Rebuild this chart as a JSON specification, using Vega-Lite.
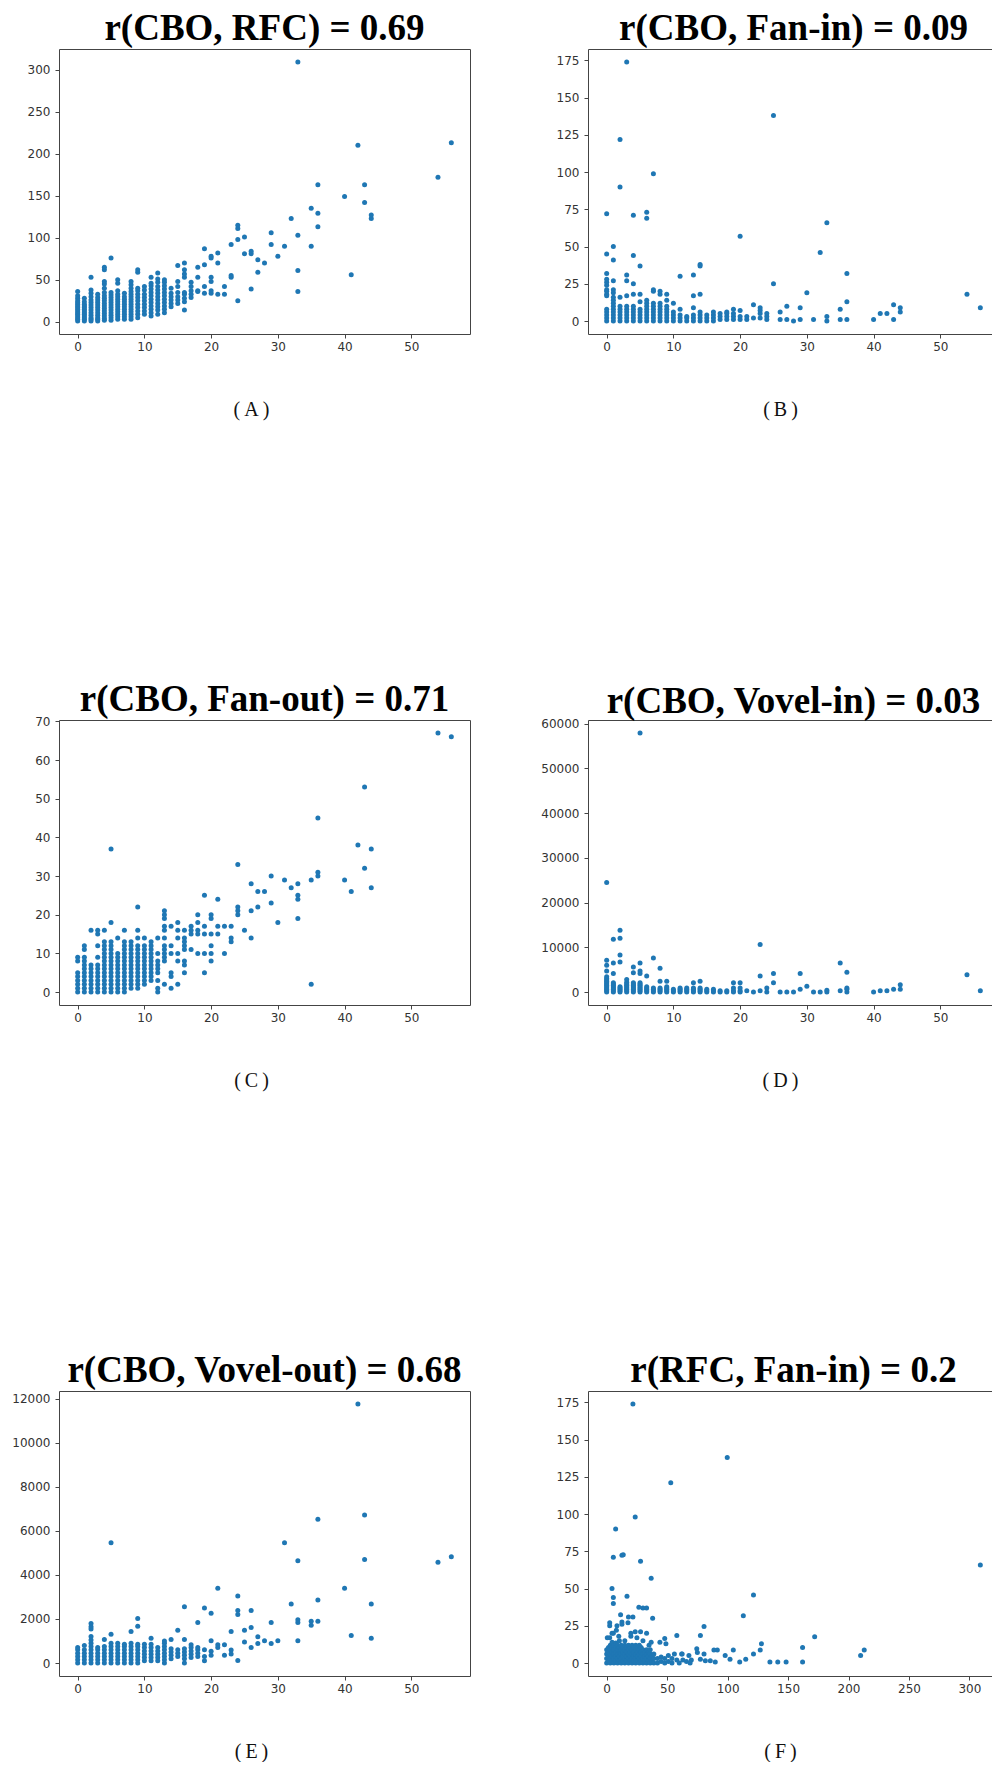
{
"$schema": "https://vega.github.io/schema/vega-lite/v6.json",
"padding": {"left": 11, "top": 9, "right": 0, "bottom": 0},
"config": {
  "view": {"stroke": "#444", "strokeWidth": 1},
  "axis": {"grid": false, "domain": false, "tickColor": "#444", "tickSize": 4, "tickWidth": 1, "labelFont": "DejaVu Sans", "labelFontSize": 12, "labelColor": "#333", "labelPadding": 5, "titleFont": "Liberation Serif", "titleFontSize": 20, "titleFontWeight": "normal", "titleColor": "#111", "format": "d"},
  "axisX": {"labelPadding": 3, "titlePadding": 47, "titleX": 192, "titleAlign": "center"},
  "title": {"font": "Liberation Serif", "fontSize": 37, "fontWeight": "bold", "color": "#000", "anchor": "middle", "frame": "group", "baseline": "alphabetic", "offset": 1},
  "circle": {"size": 25, "color": "#1f77b4", "opacity": 1}
},
"datasets": {
"A": [
{"x":0,"y":1},{"x":0,"y":3},{"x":0,"y":5},{"x":0,"y":7},{"x":0,"y":9},{"x":0,"y":11},{"x":0,"y":13},{"x":0,"y":15},{"x":0,"y":17},{"x":0,"y":19},{"x":0,"y":21},{"x":0,"y":23},{"x":0,"y":25},{"x":0,"y":28},{"x":0,"y":31},{"x":0,"y":36},
{"x":1,"y":1},{"x":1,"y":3},{"x":1,"y":5},{"x":1,"y":7},{"x":1,"y":9},{"x":1,"y":11},{"x":1,"y":13},{"x":1,"y":15},{"x":1,"y":17},{"x":1,"y":19},{"x":1,"y":21},{"x":1,"y":24},{"x":1,"y":28},
{"x":2,"y":1},{"x":2,"y":3},{"x":2,"y":5},{"x":2,"y":8},{"x":2,"y":11},{"x":2,"y":14},{"x":2,"y":17},{"x":2,"y":20},{"x":2,"y":23},{"x":2,"y":26},{"x":2,"y":30},{"x":2,"y":34},{"x":2,"y":38},{"x":2,"y":53},
{"x":3,"y":1},{"x":3,"y":3},{"x":3,"y":5},{"x":3,"y":8},{"x":3,"y":11},{"x":3,"y":14},{"x":3,"y":17},{"x":3,"y":20},{"x":3,"y":23},{"x":3,"y":26},{"x":3,"y":29},{"x":3,"y":33},
{"x":4,"y":2},{"x":4,"y":4},{"x":4,"y":7},{"x":4,"y":10},{"x":4,"y":13},{"x":4,"y":16},{"x":4,"y":19},{"x":4,"y":22},{"x":4,"y":25},{"x":4,"y":28},{"x":4,"y":31},{"x":4,"y":35},{"x":4,"y":40},{"x":4,"y":45},{"x":4,"y":48},{"x":4,"y":62},{"x":4,"y":65},
{"x":5,"y":2},{"x":5,"y":5},{"x":5,"y":8},{"x":5,"y":11},{"x":5,"y":14},{"x":5,"y":17},{"x":5,"y":20},{"x":5,"y":23},{"x":5,"y":26},{"x":5,"y":29},{"x":5,"y":32},{"x":5,"y":35},{"x":5,"y":76},
{"x":6,"y":3},{"x":6,"y":6},{"x":6,"y":9},{"x":6,"y":12},{"x":6,"y":15},{"x":6,"y":18},{"x":6,"y":21},{"x":6,"y":24},{"x":6,"y":27},{"x":6,"y":30},{"x":6,"y":33},{"x":6,"y":37},{"x":6,"y":46},{"x":6,"y":50},
{"x":7,"y":3},{"x":7,"y":6},{"x":7,"y":9},{"x":7,"y":12},{"x":7,"y":15},{"x":7,"y":18},{"x":7,"y":21},{"x":7,"y":24},{"x":7,"y":27},{"x":7,"y":30},{"x":7,"y":34},
{"x":8,"y":3},{"x":8,"y":6},{"x":8,"y":9},{"x":8,"y":12},{"x":8,"y":15},{"x":8,"y":18},{"x":8,"y":21},{"x":8,"y":24},{"x":8,"y":27},{"x":8,"y":30},{"x":8,"y":33},{"x":8,"y":36},{"x":8,"y":40},{"x":8,"y":44},{"x":8,"y":48},
{"x":9,"y":5},{"x":9,"y":9},{"x":9,"y":13},{"x":9,"y":17},{"x":9,"y":21},{"x":9,"y":25},{"x":9,"y":29},{"x":9,"y":33},{"x":9,"y":37},{"x":9,"y":40},{"x":9,"y":59},{"x":9,"y":62},
{"x":10,"y":9},{"x":10,"y":13},{"x":10,"y":17},{"x":10,"y":21},{"x":10,"y":25},{"x":10,"y":29},{"x":10,"y":33},{"x":10,"y":38},{"x":10,"y":42},
{"x":11,"y":7},{"x":11,"y":11},{"x":11,"y":15},{"x":11,"y":19},{"x":11,"y":23},{"x":11,"y":27},{"x":11,"y":31},{"x":11,"y":35},{"x":11,"y":39},{"x":11,"y":43},{"x":11,"y":46},{"x":11,"y":53},
{"x":12,"y":9},{"x":12,"y":14},{"x":12,"y":18},{"x":12,"y":22},{"x":12,"y":26},{"x":12,"y":30},{"x":12,"y":34},{"x":12,"y":38},{"x":12,"y":42},{"x":12,"y":47},{"x":12,"y":51},{"x":12,"y":58},
{"x":13,"y":11},{"x":13,"y":15},{"x":13,"y":19},{"x":13,"y":23},{"x":13,"y":27},{"x":13,"y":31},{"x":13,"y":35},{"x":13,"y":39},{"x":13,"y":43},{"x":13,"y":47},{"x":13,"y":50},
{"x":14,"y":18},{"x":14,"y":22},{"x":14,"y":26},{"x":14,"y":30},{"x":14,"y":34},{"x":14,"y":40},
{"x":15,"y":22},{"x":15,"y":26},{"x":15,"y":30},{"x":15,"y":35},{"x":15,"y":42},{"x":15,"y":48},{"x":15,"y":67},
{"x":16,"y":14},{"x":16,"y":24},{"x":16,"y":28},{"x":16,"y":33},{"x":16,"y":35},{"x":16,"y":53},{"x":16,"y":57},{"x":16,"y":62},{"x":16,"y":70},
{"x":17,"y":29},{"x":17,"y":33},{"x":17,"y":37},{"x":17,"y":42},{"x":17,"y":47},
{"x":18,"y":36},{"x":18,"y":37},{"x":18,"y":53},{"x":18,"y":65},
{"x":19,"y":34},{"x":19,"y":42},{"x":19,"y":68},{"x":19,"y":87},
{"x":20,"y":34},{"x":20,"y":37},{"x":20,"y":48},{"x":20,"y":53},{"x":20,"y":76},{"x":20,"y":78},
{"x":21,"y":33},{"x":21,"y":70},{"x":21,"y":82},
{"x":22,"y":33},{"x":22,"y":42},
{"x":23,"y":53},{"x":23,"y":55},{"x":23,"y":92},
{"x":24,"y":25},{"x":24,"y":98},{"x":24,"y":111},{"x":24,"y":115},
{"x":25,"y":81},{"x":25,"y":101},
{"x":26,"y":39},{"x":26,"y":81},{"x":26,"y":84},
{"x":27,"y":59},{"x":27,"y":74},
{"x":28,"y":70},
{"x":29,"y":92},{"x":29,"y":106},
{"x":30,"y":78},
{"x":31,"y":90},
{"x":32,"y":123},
{"x":33,"y":36},{"x":33,"y":61},{"x":33,"y":103},{"x":33,"y":309},
{"x":35,"y":90},{"x":35,"y":135},
{"x":36,"y":113},{"x":36,"y":129},{"x":36,"y":163},
{"x":40,"y":149},
{"x":41,"y":56},
{"x":42,"y":210},
{"x":43,"y":142},{"x":43,"y":163},
{"x":44,"y":123},{"x":44,"y":127},
{"x":54,"y":172},
{"x":56,"y":213}
],
"B": [
{"x":0,"y":0},{"x":0,"y":2},{"x":0,"y":4},{"x":0,"y":6},{"x":0,"y":8},{"x":0,"y":17},{"x":0,"y":18},{"x":0,"y":20},{"x":0,"y":21},{"x":0,"y":24},{"x":0,"y":26},{"x":0,"y":28},{"x":0,"y":32},{"x":0,"y":45},{"x":0,"y":72},
{"x":1,"y":0},{"x":1,"y":2},{"x":1,"y":4},{"x":1,"y":6},{"x":1,"y":8},{"x":1,"y":10},{"x":1,"y":12},{"x":1,"y":14},{"x":1,"y":16},{"x":1,"y":19},{"x":1,"y":21},{"x":1,"y":27},{"x":1,"y":41},{"x":1,"y":50},
{"x":2,"y":0},{"x":2,"y":2},{"x":2,"y":4},{"x":2,"y":6},{"x":2,"y":8},{"x":2,"y":10},{"x":2,"y":16},{"x":2,"y":90},{"x":2,"y":122},
{"x":3,"y":0},{"x":3,"y":2},{"x":3,"y":4},{"x":3,"y":6},{"x":3,"y":8},{"x":3,"y":10},{"x":3,"y":17},{"x":3,"y":27},{"x":3,"y":31},{"x":3,"y":174},
{"x":4,"y":0},{"x":4,"y":2},{"x":4,"y":4},{"x":4,"y":6},{"x":4,"y":8},{"x":4,"y":10},{"x":4,"y":18},{"x":4,"y":25},{"x":4,"y":44},{"x":4,"y":71},
{"x":5,"y":0},{"x":5,"y":2},{"x":5,"y":4},{"x":5,"y":6},{"x":5,"y":8},{"x":5,"y":13},{"x":5,"y":18},{"x":5,"y":37},
{"x":6,"y":0},{"x":6,"y":2},{"x":6,"y":4},{"x":6,"y":6},{"x":6,"y":8},{"x":6,"y":10},{"x":6,"y":12},{"x":6,"y":14},{"x":6,"y":69},{"x":6,"y":73},
{"x":7,"y":0},{"x":7,"y":2},{"x":7,"y":4},{"x":7,"y":6},{"x":7,"y":8},{"x":7,"y":10},{"x":7,"y":12},{"x":7,"y":20},{"x":7,"y":21},{"x":7,"y":99},
{"x":8,"y":0},{"x":8,"y":2},{"x":8,"y":4},{"x":8,"y":6},{"x":8,"y":8},{"x":8,"y":10},{"x":8,"y":12},{"x":8,"y":18},{"x":8,"y":20},
{"x":9,"y":0},{"x":9,"y":2},{"x":9,"y":4},{"x":9,"y":6},{"x":9,"y":8},{"x":9,"y":10},{"x":9,"y":14},{"x":9,"y":18},
{"x":10,"y":0},{"x":10,"y":2},{"x":10,"y":4},{"x":10,"y":6},{"x":10,"y":12},
{"x":11,"y":0},{"x":11,"y":2},{"x":11,"y":4},{"x":11,"y":8},{"x":11,"y":30},
{"x":12,"y":0},{"x":12,"y":2},{"x":12,"y":3},
{"x":13,"y":0},{"x":13,"y":2},{"x":13,"y":4},{"x":13,"y":9},{"x":13,"y":17},{"x":13,"y":31},
{"x":14,"y":0},{"x":14,"y":2},{"x":14,"y":4},{"x":14,"y":6},{"x":14,"y":18},{"x":14,"y":37},{"x":14,"y":38},
{"x":15,"y":0},{"x":15,"y":2},{"x":15,"y":4},
{"x":16,"y":0},{"x":16,"y":2},{"x":16,"y":4},{"x":16,"y":6},
{"x":17,"y":1},{"x":17,"y":3},{"x":17,"y":5},
{"x":18,"y":1},{"x":18,"y":3},{"x":18,"y":5},{"x":18,"y":6},
{"x":19,"y":1},{"x":19,"y":3},{"x":19,"y":5},{"x":19,"y":8},
{"x":20,"y":1},{"x":20,"y":3},{"x":20,"y":7},{"x":20,"y":57},
{"x":21,"y":1},{"x":21,"y":3},
{"x":22,"y":2},{"x":22,"y":11},
{"x":23,"y":2},{"x":23,"y":5},{"x":23,"y":7},{"x":23,"y":9},
{"x":24,"y":1},{"x":24,"y":3},{"x":24,"y":5},
{"x":25,"y":25},{"x":25,"y":138},
{"x":26,"y":1},{"x":26,"y":6},
{"x":27,"y":1},{"x":27,"y":10},
{"x":28,"y":0},
{"x":29,"y":1},{"x":29,"y":9},
{"x":30,"y":19},
{"x":31,"y":1},
{"x":32,"y":46},
{"x":33,"y":0},{"x":33,"y":3},{"x":33,"y":66},
{"x":35,"y":1},{"x":35,"y":8},
{"x":36,"y":1},{"x":36,"y":13},{"x":36,"y":32},
{"x":40,"y":1},
{"x":41,"y":5},
{"x":42,"y":5},
{"x":43,"y":1},{"x":43,"y":11},
{"x":44,"y":6},{"x":44,"y":9},
{"x":54,"y":18},
{"x":56,"y":9}
],
"C": [
{"x":0,"y":0},{"x":0,"y":1},{"x":0,"y":2},{"x":0,"y":3},{"x":0,"y":4},{"x":0,"y":5},{"x":0,"y":8},{"x":0,"y":9},
{"x":1,"y":0},{"x":1,"y":1},{"x":1,"y":2},{"x":1,"y":3},{"x":1,"y":4},{"x":1,"y":5},{"x":1,"y":6},{"x":1,"y":7},{"x":1,"y":8},{"x":1,"y":9},{"x":1,"y":11},{"x":1,"y":12},
{"x":2,"y":0},{"x":2,"y":1},{"x":2,"y":2},{"x":2,"y":3},{"x":2,"y":4},{"x":2,"y":5},{"x":2,"y":6},{"x":2,"y":7},{"x":2,"y":16},
{"x":3,"y":0},{"x":3,"y":1},{"x":3,"y":2},{"x":3,"y":3},{"x":3,"y":4},{"x":3,"y":5},{"x":3,"y":6},{"x":3,"y":7},{"x":3,"y":9},{"x":3,"y":12},{"x":3,"y":15},{"x":3,"y":16},
{"x":4,"y":0},{"x":4,"y":1},{"x":4,"y":2},{"x":4,"y":3},{"x":4,"y":4},{"x":4,"y":5},{"x":4,"y":6},{"x":4,"y":7},{"x":4,"y":8},{"x":4,"y":9},{"x":4,"y":10},{"x":4,"y":11},{"x":4,"y":12},{"x":4,"y":13},{"x":4,"y":16},
{"x":5,"y":0},{"x":5,"y":1},{"x":5,"y":2},{"x":5,"y":3},{"x":5,"y":4},{"x":5,"y":5},{"x":5,"y":6},{"x":5,"y":7},{"x":5,"y":8},{"x":5,"y":9},{"x":5,"y":10},{"x":5,"y":11},{"x":5,"y":12},{"x":5,"y":13},{"x":5,"y":18},{"x":5,"y":37},
{"x":6,"y":0},{"x":6,"y":1},{"x":6,"y":2},{"x":6,"y":3},{"x":6,"y":4},{"x":6,"y":5},{"x":6,"y":6},{"x":6,"y":7},{"x":6,"y":8},{"x":6,"y":9},{"x":6,"y":10},{"x":6,"y":14},
{"x":7,"y":0},{"x":7,"y":1},{"x":7,"y":2},{"x":7,"y":3},{"x":7,"y":4},{"x":7,"y":5},{"x":7,"y":6},{"x":7,"y":7},{"x":7,"y":8},{"x":7,"y":9},{"x":7,"y":10},{"x":7,"y":11},{"x":7,"y":12},{"x":7,"y":13},{"x":7,"y":16},
{"x":8,"y":1},{"x":8,"y":2},{"x":8,"y":3},{"x":8,"y":4},{"x":8,"y":5},{"x":8,"y":6},{"x":8,"y":7},{"x":8,"y":8},{"x":8,"y":9},{"x":8,"y":10},{"x":8,"y":11},{"x":8,"y":12},{"x":8,"y":13},
{"x":9,"y":1},{"x":9,"y":2},{"x":9,"y":3},{"x":9,"y":4},{"x":9,"y":5},{"x":9,"y":6},{"x":9,"y":7},{"x":9,"y":8},{"x":9,"y":9},{"x":9,"y":10},{"x":9,"y":11},{"x":9,"y":12},{"x":9,"y":14},{"x":9,"y":16},{"x":9,"y":22},
{"x":10,"y":2},{"x":10,"y":3},{"x":10,"y":4},{"x":10,"y":5},{"x":10,"y":6},{"x":10,"y":7},{"x":10,"y":8},{"x":10,"y":9},{"x":10,"y":10},{"x":10,"y":11},{"x":10,"y":12},{"x":10,"y":14},
{"x":11,"y":3},{"x":11,"y":4},{"x":11,"y":5},{"x":11,"y":6},{"x":11,"y":7},{"x":11,"y":8},{"x":11,"y":9},{"x":11,"y":10},{"x":11,"y":11},{"x":11,"y":12},{"x":11,"y":13},
{"x":12,"y":0},{"x":12,"y":1},{"x":12,"y":3},{"x":12,"y":5},{"x":12,"y":6},{"x":12,"y":7},{"x":12,"y":8},{"x":12,"y":10},{"x":12,"y":14},
{"x":13,"y":2},{"x":13,"y":8},{"x":13,"y":9},{"x":13,"y":10},{"x":13,"y":11},{"x":13,"y":12},{"x":13,"y":14},{"x":13,"y":16},{"x":13,"y":17},{"x":13,"y":19},{"x":13,"y":20},{"x":13,"y":21},
{"x":14,"y":1},{"x":14,"y":4},{"x":14,"y":5},{"x":14,"y":10},{"x":14,"y":12},{"x":14,"y":17},
{"x":15,"y":2},{"x":15,"y":8},{"x":15,"y":10},{"x":15,"y":14},{"x":15,"y":16},{"x":15,"y":18},
{"x":16,"y":5},{"x":16,"y":7},{"x":16,"y":8},{"x":16,"y":11},{"x":16,"y":12},{"x":16,"y":13},{"x":16,"y":14},{"x":16,"y":16},
{"x":17,"y":11},{"x":17,"y":15},{"x":17,"y":16},{"x":17,"y":17},
{"x":18,"y":10},{"x":18,"y":15},{"x":18,"y":16},{"x":18,"y":18},{"x":18,"y":20},
{"x":19,"y":5},{"x":19,"y":10},{"x":19,"y":15},{"x":19,"y":17},{"x":19,"y":25},
{"x":20,"y":8},{"x":20,"y":10},{"x":20,"y":12},{"x":20,"y":15},{"x":20,"y":19},{"x":20,"y":20},
{"x":21,"y":15},{"x":21,"y":17},{"x":21,"y":24},
{"x":22,"y":10},{"x":22,"y":17},
{"x":23,"y":13},{"x":23,"y":14},{"x":23,"y":17},
{"x":24,"y":20},{"x":24,"y":21},{"x":24,"y":22},{"x":24,"y":33},
{"x":25,"y":16},
{"x":26,"y":14},{"x":26,"y":21},{"x":26,"y":28},
{"x":27,"y":22},{"x":27,"y":26},
{"x":28,"y":26},
{"x":29,"y":23},{"x":29,"y":30},
{"x":30,"y":18},
{"x":31,"y":29},
{"x":32,"y":27},
{"x":33,"y":19},{"x":33,"y":24},{"x":33,"y":25},{"x":33,"y":28},
{"x":35,"y":2},{"x":35,"y":29},
{"x":36,"y":30},{"x":36,"y":31},{"x":36,"y":45},
{"x":40,"y":29},
{"x":41,"y":26},
{"x":42,"y":38},
{"x":43,"y":32},{"x":43,"y":53},
{"x":44,"y":27},{"x":44,"y":37},
{"x":54,"y":67},
{"x":56,"y":66}
],
"D": [
{"x":0,"y":0},{"x":0,"y":300},{"x":0,"y":600},{"x":0,"y":900},{"x":0,"y":1200},{"x":0,"y":1500},{"x":0,"y":1800},{"x":0,"y":2100},{"x":0,"y":2400},{"x":0,"y":2700},{"x":0,"y":3000},{"x":0,"y":3400},{"x":0,"y":4700},{"x":0,"y":6000},{"x":0,"y":7100},{"x":0,"y":24500},
{"x":1,"y":0},{"x":1,"y":300},{"x":1,"y":600},{"x":1,"y":900},{"x":1,"y":1200},{"x":1,"y":1500},{"x":1,"y":1800},{"x":1,"y":2100},{"x":1,"y":4150},{"x":1,"y":6500},{"x":1,"y":11800},
{"x":2,"y":0},{"x":2,"y":300},{"x":2,"y":600},{"x":2,"y":900},{"x":2,"y":1200},{"x":2,"y":6700},{"x":2,"y":8300},{"x":2,"y":12000},{"x":2,"y":13800},
{"x":3,"y":0},{"x":3,"y":300},{"x":3,"y":600},{"x":3,"y":900},{"x":3,"y":1200},{"x":3,"y":1500},{"x":3,"y":1800},{"x":3,"y":2200},{"x":3,"y":2800},
{"x":4,"y":0},{"x":4,"y":300},{"x":4,"y":600},{"x":4,"y":900},{"x":4,"y":1200},{"x":4,"y":1500},{"x":4,"y":1800},{"x":4,"y":2100},{"x":4,"y":4300},{"x":4,"y":5600},
{"x":5,"y":0},{"x":5,"y":300},{"x":5,"y":600},{"x":5,"y":900},{"x":5,"y":1200},{"x":5,"y":1500},{"x":5,"y":1800},{"x":5,"y":2100},{"x":5,"y":4150},{"x":5,"y":4700},{"x":5,"y":6500},{"x":5,"y":57900},
{"x":6,"y":0},{"x":6,"y":300},{"x":6,"y":600},{"x":6,"y":900},{"x":6,"y":1200},{"x":6,"y":3600},
{"x":7,"y":0},{"x":7,"y":300},{"x":7,"y":600},{"x":7,"y":900},{"x":7,"y":7600},
{"x":8,"y":0},{"x":8,"y":300},{"x":8,"y":600},{"x":8,"y":900},{"x":8,"y":2400},{"x":8,"y":5300},
{"x":9,"y":0},{"x":9,"y":300},{"x":9,"y":600},{"x":9,"y":900},{"x":9,"y":1200},{"x":9,"y":2400},
{"x":10,"y":0},{"x":10,"y":300},{"x":10,"y":600},
{"x":11,"y":0},{"x":11,"y":300},{"x":11,"y":600},{"x":11,"y":900},
{"x":12,"y":0},{"x":12,"y":300},{"x":12,"y":600},{"x":12,"y":900},
{"x":13,"y":0},{"x":13,"y":300},{"x":13,"y":600},{"x":13,"y":900},{"x":13,"y":2100},
{"x":14,"y":0},{"x":14,"y":300},{"x":14,"y":600},{"x":14,"y":900},{"x":14,"y":2400},
{"x":15,"y":0},{"x":15,"y":300},{"x":15,"y":600},
{"x":16,"y":0},{"x":16,"y":300},{"x":16,"y":600},
{"x":17,"y":0},{"x":17,"y":300},
{"x":18,"y":0},{"x":18,"y":300},
{"x":19,"y":0},{"x":19,"y":300},{"x":19,"y":900},{"x":19,"y":2100},
{"x":20,"y":0},{"x":20,"y":300},{"x":20,"y":900},{"x":20,"y":2100},
{"x":21,"y":300},
{"x":22,"y":0},
{"x":23,"y":300},{"x":23,"y":3600},{"x":23,"y":10600},
{"x":24,"y":0},{"x":24,"y":900},
{"x":25,"y":2100},{"x":25,"y":4150},
{"x":26,"y":0},
{"x":27,"y":0},
{"x":28,"y":0},
{"x":29,"y":600},{"x":29,"y":4150},
{"x":30,"y":1300},
{"x":31,"y":0},
{"x":32,"y":0},
{"x":33,"y":0},{"x":33,"y":400},
{"x":35,"y":300},{"x":35,"y":6500},
{"x":36,"y":0},{"x":36,"y":600},{"x":36,"y":900},{"x":36,"y":4400},
{"x":40,"y":0},
{"x":41,"y":300},
{"x":42,"y":300},
{"x":43,"y":600},
{"x":44,"y":600},{"x":44,"y":1600},
{"x":54,"y":3850},
{"x":56,"y":300}
],
"E": [
{"x":0,"y":0},{"x":0,"y":150},{"x":0,"y":300},{"x":0,"y":450},{"x":0,"y":600},{"x":0,"y":700},
{"x":1,"y":0},{"x":1,"y":150},{"x":1,"y":300},{"x":1,"y":450},{"x":1,"y":600},{"x":1,"y":800},
{"x":2,"y":0},{"x":2,"y":150},{"x":2,"y":300},{"x":2,"y":450},{"x":2,"y":600},{"x":2,"y":750},{"x":2,"y":900},{"x":2,"y":1050},{"x":2,"y":1200},{"x":2,"y":1550},{"x":2,"y":1650},{"x":2,"y":1790},
{"x":3,"y":0},{"x":3,"y":150},{"x":3,"y":300},{"x":3,"y":450},{"x":3,"y":600},{"x":3,"y":700},
{"x":4,"y":0},{"x":4,"y":150},{"x":4,"y":300},{"x":4,"y":450},{"x":4,"y":600},{"x":4,"y":750},{"x":4,"y":1070},
{"x":5,"y":0},{"x":5,"y":150},{"x":5,"y":300},{"x":5,"y":450},{"x":5,"y":600},{"x":5,"y":750},{"x":5,"y":900},{"x":5,"y":1310},{"x":5,"y":5465},
{"x":6,"y":0},{"x":6,"y":150},{"x":6,"y":300},{"x":6,"y":450},{"x":6,"y":600},{"x":6,"y":750},{"x":6,"y":900},
{"x":7,"y":0},{"x":7,"y":150},{"x":7,"y":300},{"x":7,"y":450},{"x":7,"y":600},{"x":7,"y":750},{"x":7,"y":850},
{"x":8,"y":0},{"x":8,"y":150},{"x":8,"y":300},{"x":8,"y":450},{"x":8,"y":600},{"x":8,"y":750},{"x":8,"y":900},{"x":8,"y":1430},
{"x":9,"y":0},{"x":9,"y":150},{"x":9,"y":300},{"x":9,"y":450},{"x":9,"y":600},{"x":9,"y":750},{"x":9,"y":850},{"x":9,"y":1670},{"x":9,"y":2020},
{"x":10,"y":100},{"x":10,"y":250},{"x":10,"y":400},{"x":10,"y":550},{"x":10,"y":700},{"x":10,"y":850},
{"x":11,"y":100},{"x":11,"y":250},{"x":11,"y":400},{"x":11,"y":550},{"x":11,"y":700},{"x":11,"y":850},{"x":11,"y":1130},
{"x":12,"y":100},{"x":12,"y":250},{"x":12,"y":400},{"x":12,"y":550},{"x":12,"y":700},
{"x":13,"y":0},{"x":13,"y":150},{"x":13,"y":300},{"x":13,"y":450},{"x":13,"y":600},{"x":13,"y":750},{"x":13,"y":900},{"x":13,"y":1000},
{"x":14,"y":200},{"x":14,"y":350},{"x":14,"y":500},{"x":14,"y":650},{"x":14,"y":1070},
{"x":15,"y":300},{"x":15,"y":450},{"x":15,"y":600},{"x":15,"y":1490},
{"x":16,"y":0},{"x":16,"y":200},{"x":16,"y":350},{"x":16,"y":500},{"x":16,"y":650},{"x":16,"y":1070},{"x":16,"y":2560},
{"x":17,"y":250},{"x":17,"y":400},{"x":17,"y":550},{"x":17,"y":700},{"x":17,"y":830},
{"x":18,"y":300},{"x":18,"y":450},{"x":18,"y":600},{"x":18,"y":700},{"x":18,"y":1840},
{"x":19,"y":100},{"x":19,"y":300},{"x":19,"y":600},{"x":19,"y":2500},
{"x":20,"y":350},{"x":20,"y":530},{"x":20,"y":1010},{"x":20,"y":2260},
{"x":21,"y":700},{"x":21,"y":830},{"x":21,"y":3390},
{"x":22,"y":350},{"x":22,"y":830},
{"x":23,"y":410},{"x":23,"y":590},{"x":23,"y":1430},
{"x":24,"y":120},{"x":24,"y":2200},{"x":24,"y":2380},{"x":24,"y":3040},
{"x":25,"y":950},{"x":25,"y":1490},
{"x":26,"y":710},{"x":26,"y":1610},{"x":26,"y":2380},
{"x":27,"y":890},{"x":27,"y":1190},
{"x":28,"y":1010},
{"x":29,"y":890},{"x":29,"y":1840},
{"x":30,"y":1010},
{"x":31,"y":5465},
{"x":32,"y":2680},
{"x":33,"y":1010},{"x":33,"y":1840},{"x":33,"y":1960},{"x":33,"y":4640},
{"x":35,"y":1720},{"x":35,"y":1900},
{"x":36,"y":1900},{"x":36,"y":2860},{"x":36,"y":6530},
{"x":40,"y":3390},
{"x":41,"y":1250},
{"x":42,"y":11760},
{"x":43,"y":4700},{"x":43,"y":6715},
{"x":44,"y":1130},{"x":44,"y":2680},
{"x":54,"y":4580},
{"x":56,"y":4820}
],
"F": [
{"x":0,"y":0},{"x":0,"y":3},{"x":0,"y":6},{"x":0,"y":9},
{"x":1.5,"y":1.5},{"x":1.5,"y":4.5},{"x":1.5,"y":7.5},{"x":1.5,"y":10.5},
{"x":3,"y":0},{"x":3,"y":3},{"x":3,"y":6},{"x":3,"y":9},{"x":3,"y":12},
{"x":4.5,"y":1.5},{"x":4.5,"y":4.5},{"x":4.5,"y":7.5},{"x":4.5,"y":10.5},{"x":4.5,"y":14},
{"x":6,"y":0},{"x":6,"y":3},{"x":6,"y":6},{"x":6,"y":9},{"x":6,"y":12},
{"x":7.5,"y":1.5},{"x":7.5,"y":4.5},{"x":7.5,"y":7.5},{"x":7.5,"y":10.5},{"x":7.5,"y":13.5},
{"x":9,"y":0},{"x":9,"y":3},{"x":9,"y":6},{"x":9,"y":9},{"x":9,"y":12},
{"x":10.5,"y":1.5},{"x":10.5,"y":4.5},{"x":10.5,"y":7.5},{"x":10.5,"y":10.5},{"x":10.5,"y":15},
{"x":12,"y":0},{"x":12,"y":3},{"x":12,"y":6},{"x":12,"y":9},{"x":12,"y":12},
{"x":13.5,"y":1.5},{"x":13.5,"y":4.5},{"x":13.5,"y":7.5},{"x":13.5,"y":10.5},
{"x":15,"y":0},{"x":15,"y":3},{"x":15,"y":6},{"x":15,"y":9},{"x":15,"y":12},
{"x":16.5,"y":1.5},{"x":16.5,"y":4.5},{"x":16.5,"y":7.5},{"x":16.5,"y":10.5},
{"x":18,"y":0},{"x":18,"y":3},{"x":18,"y":6},{"x":18,"y":9},{"x":18,"y":12},
{"x":19.5,"y":1.5},{"x":19.5,"y":4.5},{"x":19.5,"y":7.5},{"x":19.5,"y":10.5},
{"x":21,"y":0},{"x":21,"y":3},{"x":21,"y":6},{"x":21,"y":9},{"x":21,"y":12},
{"x":22.5,"y":1.5},{"x":22.5,"y":4.5},{"x":22.5,"y":7.5},{"x":22.5,"y":10.5},
{"x":24,"y":0},{"x":24,"y":3},{"x":24,"y":6},{"x":24,"y":9},{"x":24,"y":12},
{"x":25.5,"y":1.5},{"x":25.5,"y":4.5},{"x":25.5,"y":7.5},{"x":25.5,"y":10.5},
{"x":27,"y":0},{"x":27,"y":3},{"x":27,"y":6},{"x":27,"y":9},{"x":27,"y":12},
{"x":28.5,"y":1.5},{"x":28.5,"y":4.5},{"x":28.5,"y":7.5},{"x":28.5,"y":10.5},
{"x":30,"y":0},{"x":30,"y":3},{"x":30,"y":6},{"x":30,"y":9},
{"x":31.5,"y":1.5},{"x":31.5,"y":4.5},{"x":31.5,"y":7.5},
{"x":33,"y":0},{"x":33,"y":3},{"x":33,"y":6},{"x":33,"y":9},
{"x":34.5,"y":1.5},{"x":34.5,"y":4.5},{"x":34.5,"y":7.5},
{"x":36,"y":0},{"x":36,"y":3},{"x":36,"y":6},{"x":36,"y":9},
{"x":37.5,"y":1.5},{"x":37.5,"y":4.5},
{"x":39,"y":0},{"x":39,"y":3},{"x":39,"y":6},
{"x":42,"y":0},{"x":42,"y":3},{"x":45,"y":1},{"x":45,"y":4},{"x":48,"y":0},{"x":48,"y":3},{"x":51,"y":1},{"x":51,"y":5},{"x":54,"y":0},{"x":54,"y":3},{"x":56,"y":6},{"x":58,"y":2},{"x":60,"y":0},{"x":62,"y":6},{"x":63,"y":2},{"x":66,"y":1},{"x":68,"y":5},{"x":69,"y":0},{"x":70,"y":2},
{"x":0.5,"y":17},{"x":2.5,"y":17},{"x":2.5,"y":25},{"x":2.5,"y":27},{"x":4.4,"y":20},{"x":5.5,"y":20},{"x":5.5,"y":40},{"x":5.5,"y":44},{"x":4.4,"y":50},{"x":5.5,"y":71},{"x":7.4,"y":90},{"x":8.5,"y":25},{"x":8,"y":22},{"x":10,"y":18},{"x":11.5,"y":32.5},{"x":12.6,"y":27.6},{"x":12.6,"y":26},{"x":12.6,"y":72.4},{"x":13.7,"y":72.7},{"x":15,"y":15},{"x":16.8,"y":44.8},{"x":17.6,"y":27},{"x":18,"y":31},{"x":20,"y":18},{"x":20,"y":20},{"x":21.7,"y":31},{"x":21.7,"y":174},{"x":23.6,"y":21},{"x":23.6,"y":98},{"x":25,"y":17},{"x":26.6,"y":37.5},{"x":28,"y":21},{"x":28,"y":68.4},{"x":30,"y":37},{"x":30,"y":15},{"x":33,"y":37},{"x":33,"y":20},{"x":35,"y":12},{"x":36.8,"y":57},{"x":36.8,"y":14},{"x":38,"y":30},{"x":44,"y":14},{"x":48,"y":16.5},{"x":49,"y":13},{"x":53,"y":121},{"x":58,"y":18.5},{"x":62.4,"y":6},{"x":74.5,"y":9.6},{"x":75,"y":7},{"x":77.5,"y":18.5},{"x":77.5,"y":2.5},{"x":80.5,"y":24.5},{"x":80.5,"y":6},{"x":81.6,"y":1.6},{"x":85.7,"y":1.6},{"x":88.7,"y":8.7},{"x":89.8,"y":0.7},{"x":91.5,"y":8.7},{"x":98,"y":5},{"x":99.7,"y":138},{"x":102,"y":2.5},{"x":104.7,"y":8.7},{"x":110,"y":0.7},{"x":113,"y":31.7},{"x":115,"y":2.5},{"x":121.4,"y":45.7},{"x":121.4,"y":6},{"x":127,"y":8.7},{"x":128,"y":13},{"x":135,"y":0.7},{"x":141.5,"y":0.7},{"x":148.4,"y":0.7},{"x":162,"y":10.5},{"x":162,"y":0.7},{"x":172,"y":17.6},{"x":210,"y":5},{"x":213,"y":8.7},{"x":309,"y":65.8}
]
},
"concat": [
{
 "width": 411, "height": 285,
 "title": {"text": "r(CBO, RFC) = 0.69"},
 "data": {"name": "A"},
 "mark": {"type": "circle"},
 "encoding": {
  "x": {"field": "x", "type": "quantitative", "scale": {"domain": [-2.8, 58.8], "nice": false, "zero": false}, "axis": {"values": [0,10,20,30,40,50], "title": "(\u2009A\u2009)"}},
  "y": {"field": "y", "type": "quantitative", "scale": {"domain": [-14.4, 324.4], "nice": false, "zero": false}, "axis": {"values": [0,50,100,150,200,250,300], "title": null}}
 }
},
{
 "width": 411, "height": 285,
 "title": {"text": "r(CBO, Fan-in) = 0.09"},
 "data": {"name": "B"},
 "mark": {"type": "circle"},
 "encoding": {
  "x": {"field": "x", "type": "quantitative", "scale": {"domain": [-2.8, 58.8], "nice": false, "zero": false}, "axis": {"values": [0,10,20,30,40,50], "title": "(\u2009B\u2009)"}},
  "y": {"field": "y", "type": "quantitative", "scale": {"domain": [-8.7, 182.7], "nice": false, "zero": false}, "axis": {"values": [0,25,50,75,100,125,150,175], "title": null}}
 }
},
{
 "width": 411, "height": 285,
 "title": {"text": "r(CBO, Fan-out) = 0.71", "dy": 5},
 "data": {"name": "C"},
 "mark": {"type": "circle"},
 "encoding": {
  "x": {"field": "x", "type": "quantitative", "scale": {"domain": [-2.8, 58.8], "nice": false, "zero": false}, "axis": {"values": [0,10,20,30,40,50], "title": "(\u2009C\u2009)"}},
  "y": {"field": "y", "type": "quantitative", "scale": {"domain": [-3.35, 70.35], "nice": false, "zero": false}, "axis": {"values": [0,10,20,30,40,50,60,70], "title": null}}
 }
},
{
 "width": 411, "height": 285,
 "title": {"text": "r(CBO, Vovel-in) = 0.03", "dy": 4},
 "data": {"name": "D"},
 "mark": {"type": "circle"},
 "encoding": {
  "x": {"field": "x", "type": "quantitative", "scale": {"domain": [-2.8, 58.8], "nice": false, "zero": false}, "axis": {"values": [0,10,20,30,40,50], "title": "(\u2009D\u2009)"}},
  "y": {"field": "y", "type": "quantitative", "scale": {"domain": [-2900, 60800], "nice": false, "zero": false}, "axis": {"values": [0,10000,20000,30000,40000,50000,60000], "title": null}}
 }
},
{
 "width": 411, "height": 285,
 "title": {"text": "r(CBO, Vovel-out) = 0.68"},
 "data": {"name": "E"},
 "mark": {"type": "circle"},
 "encoding": {
  "x": {"field": "x", "type": "quantitative", "scale": {"domain": [-2.8, 58.8], "nice": false, "zero": false}, "axis": {"values": [0,10,20,30,40,50], "title": "(\u2009E\u2009)"}},
  "y": {"field": "y", "type": "quantitative", "scale": {"domain": [-588, 12348], "nice": false, "zero": false}, "axis": {"values": [0,2000,4000,6000,8000,10000,12000], "title": null}}
 }
},
{
 "width": 411, "height": 285,
 "title": {"text": "r(RFC, Fan-in) = 0.2"},
 "data": {"name": "F"},
 "mark": {"type": "circle"},
 "encoding": {
  "x": {"field": "x", "type": "quantitative", "scale": {"domain": [-15.45, 324.45], "nice": false, "zero": false}, "axis": {"values": [0,50,100,150,200,250,300], "title": "(\u2009F\u2009)"}},
  "y": {"field": "y", "type": "quantitative", "scale": {"domain": [-8.7, 182.7], "nice": false, "zero": false}, "axis": {"values": [0,25,50,75,100,125,150,175], "title": null}}
 }
}
],
"columns": 2,
"spacing": {"row": 386, "column": 118},
"bounds": "flush"
}
